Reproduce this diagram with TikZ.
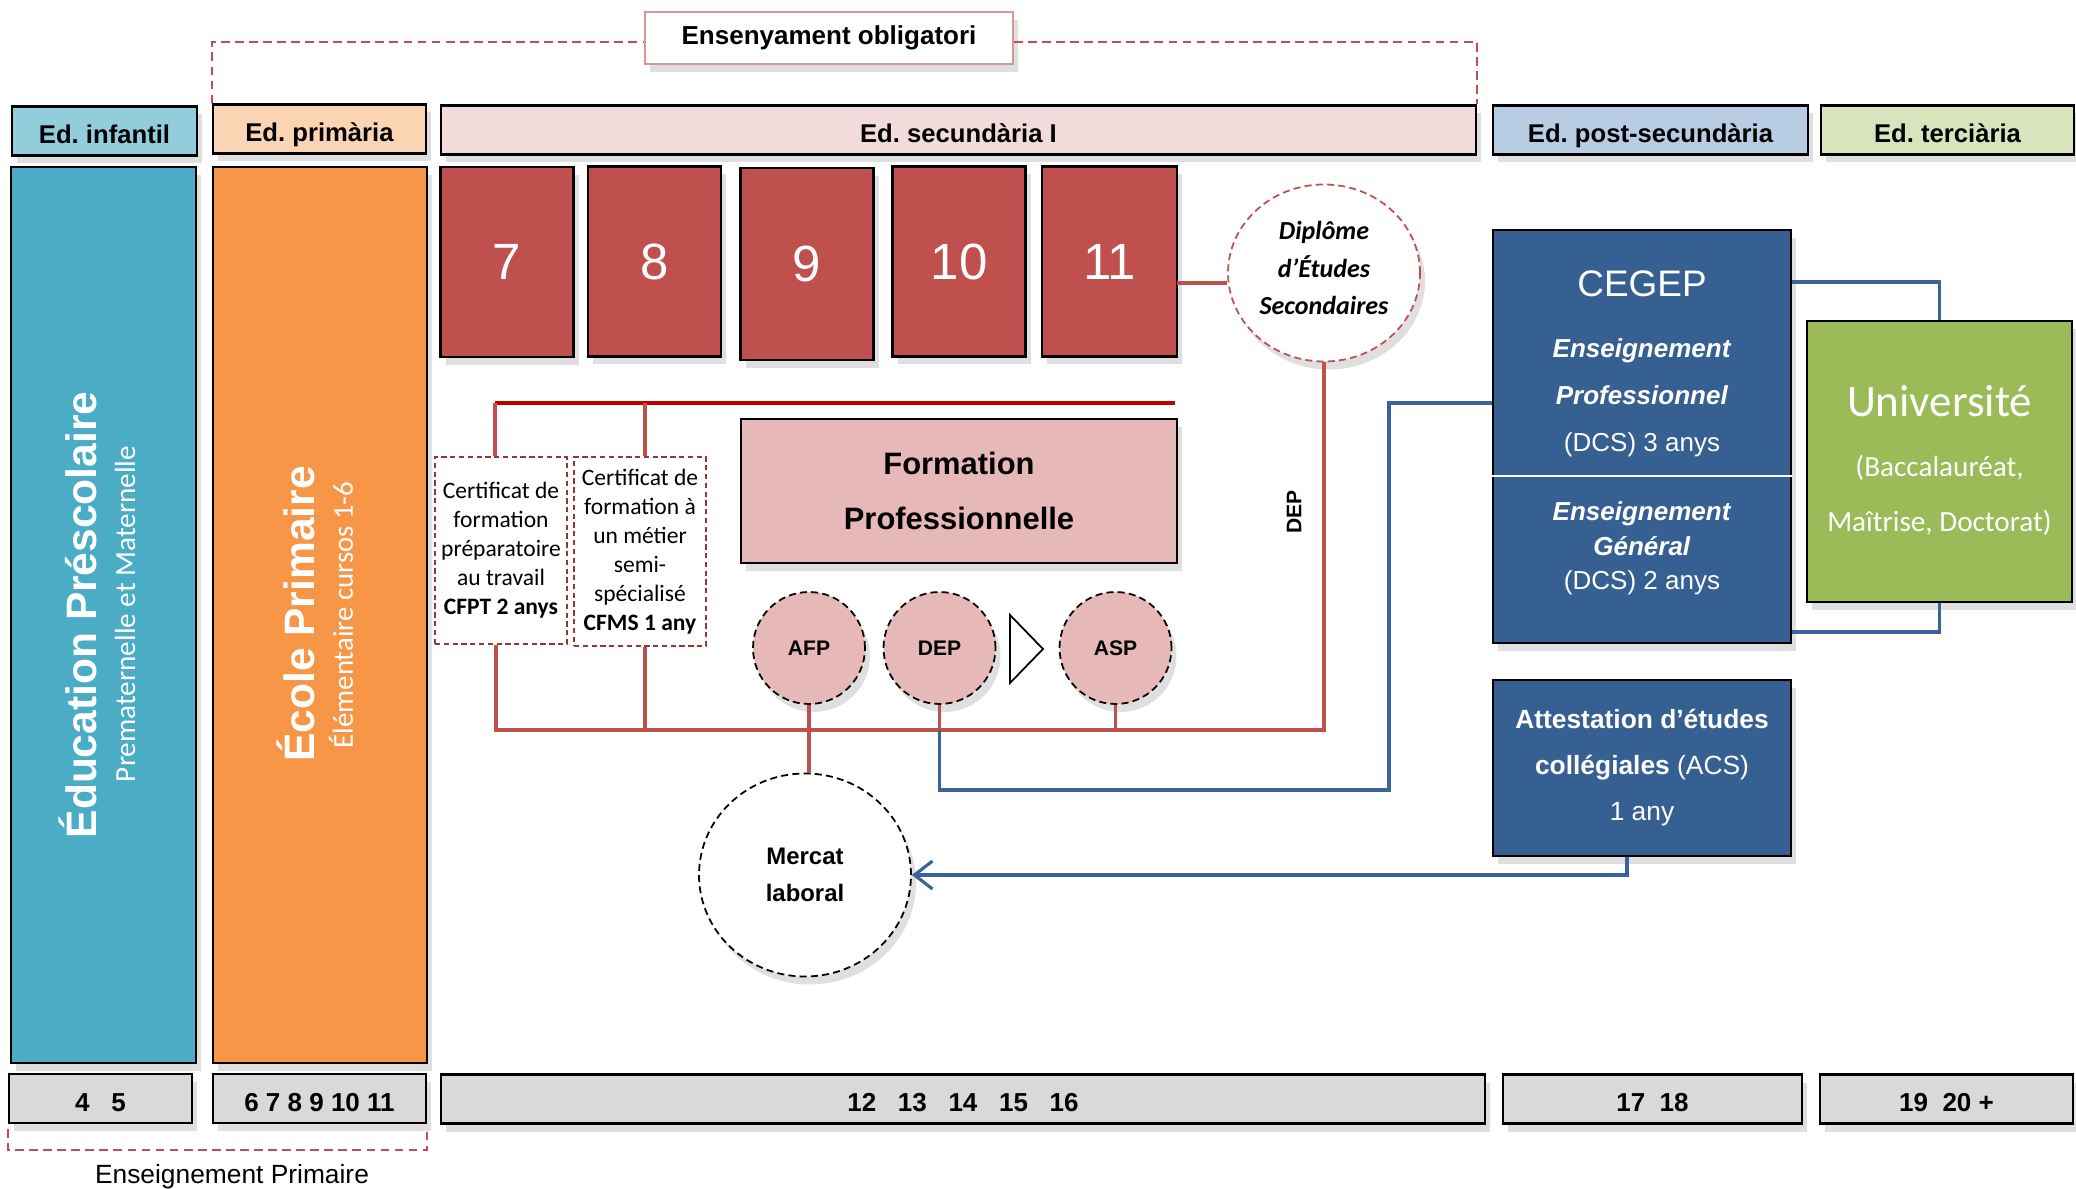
\documentclass[tikz,border=0pt]{standalone}
\usepackage{fontspec}
\setmainfont{Liberation Sans}
\newfontfamily\calib{Carlito}
\usetikzlibrary{shapes.geometric,shadows,arrows.meta}
\newcommand\fsz[2]{\fontsize{#1}{#2}\selectfont}
\definecolor{infantilblue}{HTML}{92CDDC}
\definecolor{primpeach}{HTML}{FBD4B4}
\definecolor{secpink}{HTML}{F2DCDB}
\definecolor{postblue}{HTML}{B8CCE4}
\definecolor{tertgreen}{HTML}{D7E4BC}
\definecolor{prescblue}{HTML}{4BACC6}
\definecolor{primorange}{HTML}{F79646}
\definecolor{gradered}{HTML}{C0504D}
\definecolor{formpink}{HTML}{E6B9B8}
\definecolor{cegepblue}{HTML}{376092}
\definecolor{univgreen}{HTML}{9BBB59}
\definecolor{agegrey}{HTML}{D9D9D9}
\definecolor{linered}{HTML}{C0504D}
\definecolor{darkbar}{HTML}{C00000}
\definecolor{lineblue}{HTML}{3A6498}
\definecolor{certred}{HTML}{953735}
\definecolor{obligred}{HTML}{D99694}

\begin{document}
\frenchspacing
\begin{tikzpicture}
        [x=0.1mm, y=-0.1mm,
        panel/.style={draw=black, line width=0.6pt, inner sep=0pt, align=center, drop shadow={shadow xshift=0.5mm, shadow yshift=-0.8mm, opacity=0.25}},
        header/.style={panel, minimum height=4.9mm, text height=0.72em, text depth=0pt, font=\bfseries\fsz{7.3}{9}},
        grade/.style={panel, fill=gradered, minimum width=13.3mm, minimum height=19mm, text=white, font=\fsz{14.5}{17}},
        age/.style={panel, fill=agegrey, minimum height=4.9mm, text height=0.72em, text depth=0pt, font=\bfseries\fsz{7.4}{9}},
        pill/.style={panel, circle, dash pattern=on 2pt off 1.2pt, line width=0.5pt, fill=formpink, minimum size=11.2mm, font=\bfseries\fsz{6}{7}},
        note/.style={inner sep=0pt, align=center},
        cert/.style={note, draw=certred, dash pattern=on 1.5pt off 1pt, line width=0.5pt, minimum width=13.2mm, font=\calib\fsz{6.7}{8.25}},
        redline/.style={draw=linered, line width=1.1pt},
        blueline/.style={draw=lineblue, line width=0.9pt},
        bracket/.style={draw=linered, dash pattern=on 2.5pt off 1.5pt, line width=0.6pt}]

        \useasboundingbox (0,0) rectangle (2076,1189);

        \node[panel, draw=obligred, line width=0.5pt, fill=white, minimum width=36.8mm, minimum height=5.2mm, font=\bfseries\fsz{7.4}{9}] (oblig) at (829,38) {Ensenyament obligatori};

        \node[header, fill=infantilblue, minimum width=18.5mm] (infantil) at (104.5,131) {Ed. infantil};
        \node[header, fill=primpeach, minimum width=21.3mm] (primaria) at (319.5,129) {Ed. primària};
        \node[header, fill=secpink, minimum width=103.5mm] (secI) at (958.5,130) {Ed. secundària I};
        \node[header, fill=postblue, minimum width=31.5mm] (postsec) at (1650.5,130) {Ed. post-secundària};
        \node[header, fill=tertgreen, minimum width=25.3mm] (terciaria) at (1947.5,130) {Ed. terciària};

        \node[panel, fill=prescblue, minimum width=18.5mm, minimum height=89.6mm] (prescolaire) at (103.5,615) {};
        \node[panel, fill=primorange, minimum width=21.4mm, minimum height=89.6mm] (primaire) at (320,615) {};
        \node[note, rotate=90, text=white, font=\bfseries\fsz{12.1}{14}] (prescTitle) at (78,615) {Éducation Préscolaire};
        \node[note, rotate=90, text=white, font=\calib\fsz{8.3}{10}] (prescSub) at (125,614) {Prematernelle et Maternelle};
        \node[note, rotate=90, text=white, font=\bfseries\fsz{12.1}{14}] (primTitle) at (296,614) {École Primaire};
        \node[note, rotate=90, text=white, font=\calib\fsz{8.2}{10}] (primSub) at (341,615) {Élémentaire cursos 1-6};

        \node[grade] (g7) at (507,262) {7};
        \node[grade] (g8) at (654.5,261.5) {8};
        \node[grade, minimum height=19.2mm] (g9) at (807,264) {9};
        \node[grade] (g10) at (959,261.5) {10};
        \node[grade, minimum width=13.5mm] (g11) at (1109.5,261.5) {11};

        \node[panel, ellipse, draw=linered, dash pattern=on 2pt off 1.2pt, line width=0.5pt, fill=white, minimum width=19.2mm, minimum height=17.7mm] (dipl) at (1324,273) {};
        \node[note, font=\calib\bfseries\itshape\fsz{7.4}{10.7}] (diplText) at (1324,268) {Diplôme\\d’Études\\Secondaires};

        \node[cert, minimum height=18.7mm] (cfpt) at (501,550.5) {Certificat de\\formation\\préparatoire\\au travail\\\textbf{CFPT 2 anys}};
        \node[cert, minimum height=18.9mm] (cfms) at (640,551.5) {Certificat de\\formation à\\un métier\\semi-\\spécialisé\\\textbf{CFMS 1 any}};

        \node[panel, fill=formpink, minimum width=43.6mm, minimum height=14.4mm, font=\bfseries\fsz{8.8}{15.6}] (formpro) at (959,491) {Formation\\Professionnelle};

        \node[pill] (afp) at (809,648) {AFP};
        \node[pill] (dep) at (939.5,648) {DEP};
        \node[pill] (asp) at (1115.5,648) {ASP};
        \draw[line width=0.5pt, fill=white] (1010,615) -- (1043,649) -- (1010,683) -- cycle;

        \node[panel, ellipse, dash pattern=on 2pt off 1.2pt, line width=0.5pt, fill=white, minimum width=21.2mm, minimum height=20.3mm, font=\bfseries\fsz{6.8}{10.5}] (mercat) at (805,875) {Mercat\\laboral};

        \node[note, rotate=90, font=\bfseries\fsz{6}{7}] (deplabel) at (1294,512) {DEP};

        \node[panel, fill=cegepblue, minimum width=29.8mm, minimum height=41.3mm] (cegep) at (1642,436.5) {};
        \node[note, text=white, font=\fsz{10.5}{12}] (cegepTitle) at (1642,284) {CEGEP};
        \node[note, text=white, font=\fsz{7.4}{13.4}] (cegepPro) at (1642,398) {\textbf{\textit{Enseignement}}\\\textbf{\textit{Professionnel}}\\(DCS) 3 anys};
        \node[note, text=white, font=\fsz{7.4}{9.8}] (cegepGen) at (1642,548.5) {\textbf{\textit{Enseignement}}\\\textbf{\textit{Général}}\\(DCS) 2 anys};
        \draw[white, line width=0.8pt] ([yshift=-24.7mm]cegep.north west) -- ([yshift=-24.7mm]cegep.north east);

        \node[panel, fill=univgreen, minimum width=26.5mm, minimum height=28.1mm] (univ) at (1939.5,461.5) {};
        \node[note, text=white, font=\calib\fsz{12.8}{15}] (univTitle) at (1939.5,401) {Université};
        \node[note, text=white, font=\calib\fsz{8.3}{15.6}] (univDeg) at (1939.5,495.5) {(Baccalauréat,\\Maîtrise, Doctorat)};

        \node[panel, fill=cegepblue, minimum width=29.8mm, minimum height=17.6mm, text=white, font=\fsz{7.5}{13.1}] (acs) at (1642,768) {\textbf{Attestation d’études}\\\textbf{collégiales} (ACS)\\1 any};

        \node[age, minimum width=18.3mm] (age1) at (100.5,1098.5) {4~~~5};
        \node[age, minimum width=21.3mm] (age2) at (319.5,1098.5) {6 7 8 9 10 11};
        \node[age, minimum width=104.4mm] (age3) at (963,1099) {12~~~13~~~14~~~15~~~16};
        \node[age, minimum width=29.9mm] (age4) at (1652.5,1099) {17~~18};
        \node[age, minimum width=25.3mm] (age5) at (1946.5,1099) {19~~20~+};
        \node[note, font=\fsz{7.5}{9}] (ensPrim) at (232,1177) {Enseignement Primaire};

        \coordinate (busR) at (1324,730);
        \coordinate (topbar) at (1175,403);
        \coordinate (bluecorner) at (1389,790);
        \coordinate (bluein) at (1389,403);
        \coordinate (gradeout) at (1177,283);

        \draw[bracket] (primaria.north west) |- ([yshift=-0.4mm]oblig.west);
        \draw[bracket] ([yshift=-0.4mm]oblig.east) -| (secI.north east);
        \draw[bracket] ([yshift=-0.5mm]age1.south west) -- ++(0,21) -| ([yshift=-0.5mm]age2.south east);

        \draw[redline] (gradeout) -- (gradeout -| dipl.west);
        \draw[draw=darkbar, line width=1pt] ([xshift=-0.6mm]cfpt.north |- topbar) -- (topbar);
        \draw[redline] ([xshift=-0.6mm]cfpt.north) -- ([xshift=-0.6mm]cfpt.north |- topbar);
        \draw[redline] ([xshift=0.5mm]cfms.north) -- ([xshift=0.5mm]cfms.north |- topbar);
        \draw[redline] ([xshift=-0.5mm]cfpt.south) |- (busR) -- (dipl.south);
        \draw[redline] ([xshift=0.5mm]cfms.south) -- ([xshift=0.5mm]cfms.south |- busR);
        \draw[redline] (afp.south) -- (afp.south |- mercat.north);
        \draw[redline] (dep.south) -- (dep.south |- busR);
        \draw[redline] (asp.south) -- (asp.south |- busR);
        \draw[blueline] (dep.south |- busR) |- (bluecorner) -- (bluein) -- (bluein -| cegep.west);
        \draw[blueline] (cegep.north east) ++(0,53) -| (univ.north);
        \draw[blueline] (cegep.south east) ++(0,-12) -| (univ.south);
        \draw[blueline, -{Straight Barb[length=1.8mm, width=2.8mm]}] ([xshift=-1.5mm]acs.south) |- (mercat.east);

      \end{tikzpicture}
\end{document}
